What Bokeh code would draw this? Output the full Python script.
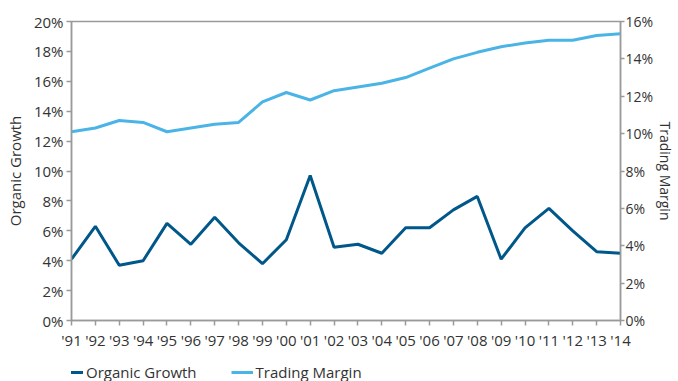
from bokeh.plotting import figure
from bokeh.layouts import column
from bokeh.models import Range1d, LinearAxis, FixedTicker, PrintfTickFormatter, Legend, LegendItem, ColumnDataSource
from bokeh.embed import file_html
from bokeh.resources import INLINE

years = list(range(1991, 2015))
year_labels = ["'" + str(y)[2:] for y in years]
organic_growth = [4.1, 6.3, 3.7, 4.0, 6.5, 5.1, 6.9, 5.2, 3.8, 5.4, 9.7, 4.9,
                  5.1, 4.5, 6.2, 6.2, 7.4, 8.3, 4.1, 6.2, 7.5, 6.0, 4.6, 4.5]
trading_margin = [10.1, 10.3, 10.7, 10.6, 10.1, 10.3, 10.5, 10.6, 11.7, 12.2, 11.8, 12.3,
                  12.5, 12.7, 13.0, 13.5, 14.0, 14.35, 14.65, 14.85, 15.0, 15.0, 15.25, 15.35]
left_ticks = list(range(0, 21, 2))
right_ticks = list(range(0, 17, 2))
series_names = ["Organic Growth", "Trading Margin"]

FONT = "Open Sans"
TXT = "#333333"
AX = "#9a9a9a"
DARK = "#00578A"
LIGHT = "#4BB4E6"

src = ColumnDataSource(dict(x=years, og=organic_growth, tm=trading_margin))

p = figure(width=678, height=352, output_backend="svg", toolbar_location=None,
           x_range=Range1d(1991, 2014), y_range=Range1d(0, 20),
           min_border_left=71, min_border_right=57, min_border_top=21, min_border_bottom=24)
p.extra_y_ranges = {"right": Range1d(0, 16)}
p.grid.visible = False
p.outline_line_color = AX
p.outline_line_width = 1.5
p.background_fill_color = "white"
p.border_fill_color = "white"

l1 = p.line("x", "og", source=src, line_color=DARK, line_width=3)
l2 = p.line("x", "tm", source=src, line_color=LIGHT, line_width=3, y_range_name="right")

def style(ax):
    ax.axis_line_color = AX
    ax.axis_line_width = 1.5
    ax.major_tick_line_color = AX
    ax.major_tick_line_width = 1.5
    ax.major_tick_in = 0
    ax.major_tick_out = 5
    ax.minor_tick_line_color = None
    ax.major_label_text_font = FONT
    ax.major_label_text_font_size = "15px"
    ax.major_label_text_color = TXT
    ax.axis_label_text_font = FONT
    ax.axis_label_text_font_size = "15px"
    ax.axis_label_text_color = TXT
    ax.axis_label_text_font_style = "normal"

xa = p.xaxis[0]
style(xa)
xa.ticker = FixedTicker(ticks=years)
xa.major_label_overrides = {y: l for y, l in zip(years, year_labels)}
xa.major_label_standoff = 4

ya = p.yaxis[0]
style(ya)
ya.ticker = FixedTicker(ticks=left_ticks)
ya.formatter = PrintfTickFormatter(format="%d%%")
ya.axis_label = "Organic Growth"
ya.major_label_standoff = 3
ya.axis_label_standoff = 6

ra = LinearAxis(y_range_name="right")
style(ra)
ra.ticker = FixedTicker(ticks=right_ticks)
ra.formatter = PrintfTickFormatter(format="%d%%")
ra.axis_label = "Trading Margin"
ra.major_label_text_font_size = "14px"
ra.axis_label_text_font_size = "14px"
ra.major_tick_out = 4
ra.major_label_standoff = 1
ra.axis_label_standoff = 0
p.add_layout(ra, "right")

# legend strip below the chart
p2 = figure(width=678, height=29, output_backend="svg", toolbar_location=None,
            x_range=Range1d(0, 1), y_range=Range1d(0, 1),
            x_axis_location=None, y_axis_location=None, min_border=0)
p2.grid.visible = False
p2.outline_line_color = None
p2.border_fill_color = "white"
k1 = p2.line([-10, -9], [-10, -9], line_color=DARK, line_width=3)
k2 = p2.line([-10, -9], [-10, -9], line_color=LIGHT, line_width=3)
legend = Legend(items=[LegendItem(label=series_names[0], renderers=[k1]),
                       LegendItem(label=series_names[1], renderers=[k2])],
                orientation="horizontal", location=(-10, -1),
                label_text_font=FONT, label_text_font_size="15px", label_text_color=TXT,
                border_line_color=None, background_fill_alpha=0,
                glyph_width=22, glyph_height=20, label_height=20, label_standoff=3,
                spacing=34, padding=0, margin=0)
p2.add_layout(legend)

open("out.html", "w").write(file_html(column(p, p2, spacing=0), INLINE))
